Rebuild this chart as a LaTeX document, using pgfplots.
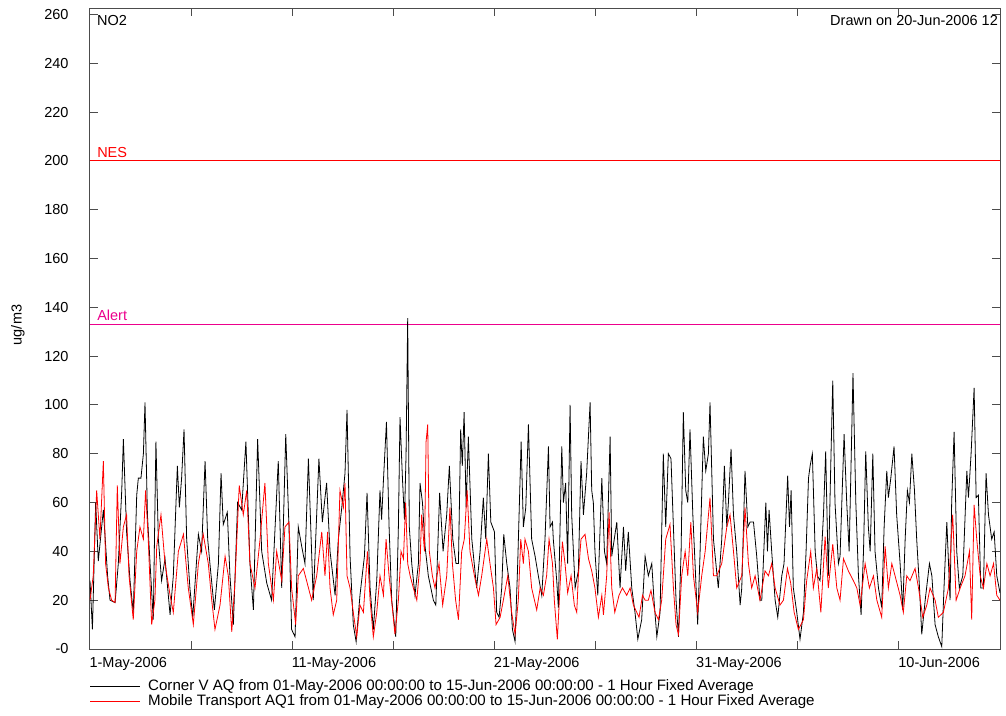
\documentclass[border=0pt]{standalone}
\usepackage{pgfplots}
\pgfplotsset{compat=1.18}
\usepackage{fontspec}
\setmainfont{Liberation Sans}
\begin{document}
\begin{tikzpicture}[font=\fontsize{14.5pt}{17pt}\selectfont]
\useasboundingbox (-90pt,-66pt) rectangle (916pt,649pt);
\begin{axis}[
  scale only axis, width=910pt, height=640.7pt,
  xmin=0, xmax=45, ymin=0, ymax=262.5,
  xtick={0,5,...,45},
  xticklabels={1-May-2006,,11-May-2006,,21-May-2006,,31-May-2006,,10-Jun-2006,},
  ytick={0,20,...,260},
  yticklabels={-0,20,40,60,80,100,120,140,160,180,200,220,240,260},
  tick align=inside, major tick length=8pt,
  xticklabel style={anchor=north west, xshift=-4pt, yshift=-5pt},
  yticklabel style={anchor=east, xshift=-18pt},
  axis line style={black!70, line width=1pt},
  tick style={black!70, line width=1pt},
]
\addplot[red, line width=1pt] coordinates {(0,200) (45,200)};
\addplot[magenta, line width=1pt] coordinates {(0,133) (45,133)};
\node[anchor=south west, text=red, inner sep=1pt] at (axis cs:0.3,201) {NES};
\node[anchor=south west, text=magenta, inner sep=1pt] at (axis cs:0.3,134) {Alert};
% Corner V AQ (black)
\addplot[black, line width=0.8pt] coordinates {
(0.00,28) (0.12,8) (0.28,60) (0.41,36) (0.66,57) (0.87,30) (0.99,20) (1.24,19) (1.40,35) (1.57,65) (1.65,86) (1.81,48) (1.98,28)
(2.14,15) (2.31,63) (2.39,70) (2.52,70) (2.64,80) (2.72,101) (2.84,55) (2.97,35) (3.13,12) (3.26,85) (3.38,45) (3.54,28) (3.71,37)
(3.96,14) (4.12,30) (4.32,75) (4.42,58) (4.53,70) (4.65,90) (4.78,45) (4.94,25) (5.08,13) (5.36,47) (5.52,40) (5.69,77) (5.82,45)
(5.93,35) (6.15,16) (6.35,35) (6.48,72) (6.59,51) (6.79,56) (6.92,30) (7.09,10) (7.30,60) (7.50,57) (7.71,85) (7.91,35) (8.08,16)
(8.29,86) (8.49,40) (8.74,27) (8.98,20) (9.31,77) (9.48,25) (9.68,88) (9.84,50) (9.97,8) (10.14,5) (10.30,50) (10.47,42) (10.63,35)
(10.80,78) (11.04,20) (11.32,78) (11.49,52) (11.70,68) (11.87,40) (12.12,22) (12.28,45) (12.45,58) (12.61,72) (12.71,98) (12.86,38)
(13.02,10) (13.16,3) (13.35,22) (13.57,38) (13.70,64) (13.85,25) (14.01,8) (14.18,28) (14.34,65) (14.42,53) (14.51,69) (14.66,93)
(14.79,50) (14.92,20) (15.12,5) (15.25,50) (15.33,95) (15.45,70) (15.55,53) (15.63,80) (15.71,135.6) (15.79,50) (15.91,35) (16.07,22)
(16.24,35) (16.32,68) (16.44,60) (16.57,42) (16.73,30) (16.98,20) (17.10,18) (17.29,64) (17.46,40) (17.64,55) (17.77,75) (17.94,45)
(18.10,35) (18.22,35) (18.33,90) (18.41,75) (18.50,97) (18.60,58) (18.71,87) (18.88,45) (19.12,25) (19.29,40) (19.45,62) (19.57,45)
(19.70,80) (19.82,52) (20.00,48) (20.11,15) (20.23,13) (20.36,25) (20.46,47) (20.61,35) (20.77,25) (20.89,8) (21.02,3) (21.15,35)
(21.32,85) (21.43,50) (21.55,58) (21.68,92) (21.84,45) (22.01,38) (22.17,30) (22.34,22) (22.50,45) (22.67,83) (22.75,50) (22.87,52)
(22.91,45) (23.08,28) (23.16,17) (23.33,83) (23.41,60) (23.52,68) (23.62,35) (23.74,100) (23.82,55) (23.99,25) (24.15,32) (24.28,77)
(24.40,55) (24.56,72) (24.73,101) (24.81,65) (24.89,60) (24.97,40) (25.11,22) (25.31,70) (25.44,40) (25.55,35) (25.72,87) (25.80,38)
(26.05,52) (26.21,25) (26.38,50) (26.49,32) (26.62,48) (26.79,25) (26.95,15) (27.09,4) (27.28,12) (27.45,38) (27.61,30) (27.78,35)
(27.89,20) (28.03,5) (28.19,15) (28.35,80) (28.47,50) (28.60,80) (28.73,78) (28.85,50) (28.98,20) (29.10,5) (29.23,40) (29.34,97)
(29.46,65) (29.56,60) (29.67,90) (29.81,55) (29.92,35) (30.05,10) (30.17,40) (30.33,87) (30.45,73) (30.58,80) (30.66,101) (30.83,45)
(31.07,25) (31.24,45) (31.37,75) (31.49,50) (31.57,60) (31.70,82) (31.82,55) (31.98,40) (32.15,18) (32.23,25) (32.39,73) (32.53,50)
(32.64,52) (32.81,52) (32.97,38) (33.13,20) (33.22,20) (33.42,60) (33.50,40) (33.58,57) (33.71,40) (33.88,20) (34.01,13) (34.21,30)
(34.32,35) (34.50,71) (34.59,50) (34.67,65) (34.78,25) (34.95,15) (35.11,4) (35.28,15) (35.41,40) (35.53,70) (35.61,75) (35.72,80)
(35.86,40) (35.97,30) (36.10,28) (36.27,55) (36.38,81) (36.51,30) (36.63,75) (36.73,110) (36.84,60) (37.01,35) (37.09,38) (37.29,88)
(37.42,60) (37.54,40) (37.62,70) (37.73,113) (37.87,60) (38.00,30) (38.13,14) (38.25,40) (38.36,81) (38.49,50) (38.58,40) (38.71,80)
(38.82,40) (38.99,25) (39.15,17) (39.27,50) (39.40,73) (39.48,62) (39.60,70) (39.76,83) (39.89,55) (40.06,35) (40.19,16) (40.31,45)
(40.42,65) (40.52,60) (40.64,80) (40.77,65) (40.88,45) (41.02,25) (41.13,6) (41.30,20) (41.51,35) (41.63,30) (41.79,10) (41.95,5)
(42.12,1) (42.23,25) (42.37,52) (42.53,20) (42.61,60) (42.73,89) (42.86,40) (42.99,25) (43.16,30) (43.36,73) (43.44,62) (43.57,80)
(43.72,107) (43.82,62) (43.93,63) (44.05,25) (44.18,25) (44.31,72) (44.43,55) (44.59,45) (44.71,48) (44.84,30) (45.00,23)
};
% Mobile Transport AQ1 (red)
\addplot[red, line width=0.8pt] coordinates {
(0.00,20) (0.16,30) (0.33,65) (0.49,45) (0.66,77) (0.77,35) (0.91,25) (1.07,20) (1.24,19) (1.35,67) (1.48,35) (1.65,50) (1.81,55)
(1.93,30) (2.14,12) (2.31,40) (2.47,50) (2.64,45) (2.75,65) (2.88,45) (3.05,10) (3.21,20) (3.30,42) (3.51,55) (3.71,35) (3.96,22)
(4.12,15) (4.37,40) (4.62,47) (4.86,25) (5.11,10) (5.36,35) (5.60,47) (5.85,35) (6.02,20) (6.18,8) (6.43,18) (6.68,38) (6.84,30)
(7.01,7) (7.17,28) (7.38,67) (7.58,55) (7.75,65) (7.91,35) (8.16,25) (8.41,45) (8.65,68) (8.82,35) (9.07,20) (9.23,40) (9.48,28)
(9.64,50) (9.84,52) (9.97,25) (10.17,10) (10.30,30) (10.55,33) (10.71,28) (10.96,20) (11.21,30) (11.46,48) (11.62,30) (11.75,48)
(11.87,25) (12.03,14) (12.20,20) (12.36,65) (12.53,58) (12.61,68) (12.71,30) (12.86,25) (13.02,15) (13.19,5) (13.35,18) (13.52,15)
(13.60,25) (13.72,40) (13.85,20) (14.01,5) (14.18,15) (14.34,30) (14.51,22) (14.64,45) (14.79,30) (14.95,17) (15.08,6) (15.25,20)
(15.38,40) (15.50,37) (15.61,60) (15.71,35) (15.83,30) (15.99,25) (16.16,20) (16.32,35) (16.40,55) (16.54,40) (16.62,85) (16.70,92)
(16.78,40) (16.93,30) (17.06,25) (17.26,35) (17.44,18) (17.64,30) (17.80,58) (17.92,35) (18.08,20) (18.22,12) (18.38,40) (18.51,45)
(18.65,65) (18.79,40) (19.01,30) (19.21,22) (19.37,30) (19.62,45) (19.78,35) (19.95,25) (20.08,10) (20.28,13) (20.44,20) (20.66,30)
(20.85,15) (21.02,6) (21.18,20) (21.30,45) (21.43,35) (21.51,45) (21.68,40) (21.84,25) (22.09,16) (22.26,25) (22.42,22) (22.58,30)
(22.70,45) (22.87,35) (22.96,20) (23.11,4) (23.24,25) (23.36,44) (23.49,35) (23.62,23) (23.79,30) (23.95,18) (24.07,15) (24.15,30)
(24.28,45) (24.48,47) (24.65,37) (24.81,32) (24.97,25) (25.14,13) (25.31,22) (25.39,14) (25.55,30) (25.67,56) (25.80,25) (25.95,15)
(26.16,22) (26.33,25) (26.54,22) (26.71,25) (26.87,18) (27.15,13) (27.32,22) (27.45,20) (27.61,20) (27.74,24) (27.94,15) (28.11,12)
(28.27,20) (28.47,45) (28.68,51) (28.85,25) (28.98,10) (29.10,6) (29.26,30) (29.43,40) (29.56,30) (29.71,52) (29.84,30) (30.05,15)
(30.25,30) (30.42,40) (30.66,62) (30.83,30) (30.99,30) (31.24,35) (31.49,50) (31.65,55) (31.82,40) (31.98,25) (32.23,30) (32.39,58)
(32.56,35) (32.72,25) (32.89,30) (33.13,20) (33.38,32) (33.55,30) (33.71,35) (33.88,25) (34.12,18) (34.29,20) (34.49,33) (34.65,27)
(34.82,15) (35.03,8) (35.28,12) (35.44,28) (35.64,40) (35.77,25) (35.94,33) (36.14,15) (36.35,46) (36.51,25) (36.73,43) (36.93,25)
(37.09,20) (37.26,37) (37.50,32) (37.75,28) (37.92,25) (38.08,18) (38.33,35) (38.54,25) (38.74,30) (38.91,20) (39.15,13) (39.32,42)
(39.48,25) (39.65,35) (39.81,30) (40.06,22) (40.22,15) (40.39,30) (40.55,28) (40.80,33) (40.97,25) (41.18,13) (41.38,18) (41.54,25)
(41.79,20) (41.95,13) (42.20,15) (42.45,25) (42.66,55) (42.83,20) (43.03,25) (43.27,30) (43.49,40) (43.60,12) (43.72,59) (43.85,45)
(44.02,30) (44.18,25) (44.35,35) (44.51,30) (44.68,35) (44.84,22) (45.00,20)
};
\node[anchor=north west, inner sep=0pt] at (axis description cs:0,1) [xshift=7pt, yshift=-7pt] {NO2};
\end{axis}
\node[anchor=north west, inner sep=0pt] at (740pt,634pt) {Drawn on 20-Jun-2006 12};
\node[rotate=90] at (-72pt,324pt) {ug/m3};
\draw[black, line width=0.8pt] (0pt,-37.7pt) -- (50pt,-37.7pt);
\draw[red, line width=0.8pt] (0pt,-52.3pt) -- (50pt,-52.3pt);
\node[anchor=west, inner sep=0pt, font=\fontsize{15.1pt}{17pt}\selectfont] at (58pt,-37.7pt) {Corner V AQ from 01-May-2006 00:00:00 to 15-Jun-2006 00:00:00 - 1 Hour Fixed Average};
\node[anchor=west, inner sep=0pt, font=\fontsize{15.1pt}{17pt}\selectfont] at (58pt,-52.3pt) {Mobile Transport AQ1 from 01-May-2006 00:00:00 to 15-Jun-2006 00:00:00 - 1 Hour Fixed Average};
\end{tikzpicture}
\end{document}
